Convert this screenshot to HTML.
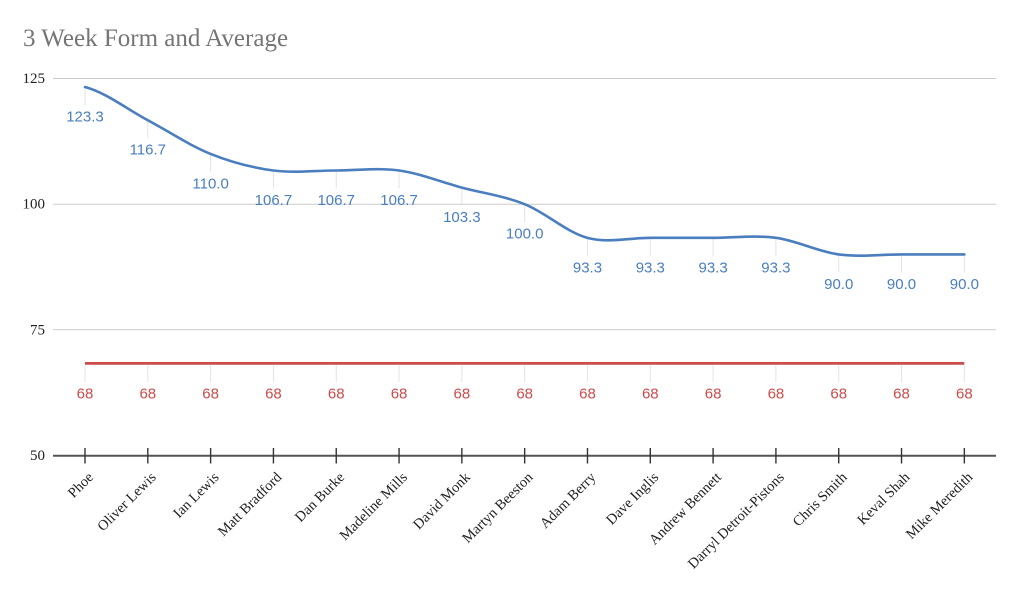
<!DOCTYPE html>
<html>
<head>
<meta charset="utf-8">
<style>
  html, body { margin: 0; padding: 0; background: #ffffff; }
  body { width: 1023px; height: 595px; overflow: hidden; }
  svg { display: block; }
  .title { font-family: "Liberation Serif", serif; font-size: 25px; fill: #757575; }
  .ylab { font-family: "Liberation Serif", serif; font-size: 15px; fill: #222; }
  .xlab { font-family: "Liberation Serif", serif; font-size: 14.5px; fill: #222; }
  .blab { font-family: "Liberation Sans", sans-serif; font-size: 15px; fill: #4a7ebf; }
  .rlab { font-family: "Liberation Sans", sans-serif; font-size: 15px; fill: #cc4b4b; }
</style>
</head>
<body>
<svg width="1023" height="595" viewBox="0 0 1023 595" xmlns="http://www.w3.org/2000/svg">
  <rect x="0" y="0" width="1023" height="595" fill="#ffffff"/>
  <text class="title" x="23" y="46">3 Week Form and Average</text>

  <!-- gridlines -->
  <g stroke="#cccccc" stroke-width="1">
    <line x1="53" y1="78.5" x2="996" y2="78.5"/>
    <line x1="53" y1="204.2" x2="996" y2="204.2"/>
    <line x1="53" y1="329.8" x2="996" y2="329.8"/>
  </g>

  <!-- y labels -->
  <g class="ylab" text-anchor="end">
    <text x="45" y="83">125</text>
    <text x="45" y="208.7">100</text>
    <text x="45" y="334.3">75</text>
    <text x="45" y="460">50</text>
  </g>

  <!-- leader lines blue -->
  <g stroke="#e3e3e3" stroke-width="1">
    <line x1="85" y1="88" x2="85" y2="105"/>
    <line x1="147.81" y1="121" x2="147.81" y2="138"/>
    <line x1="210.62" y1="155" x2="210.62" y2="172"/>
    <line x1="273.43" y1="171.5" x2="273.43" y2="188.5"/>
    <line x1="336.24" y1="171.5" x2="336.24" y2="188.5"/>
    <line x1="399.05" y1="171.5" x2="399.05" y2="188.5"/>
    <line x1="461.86" y1="188.5" x2="461.86" y2="205.5"/>
    <line x1="524.67" y1="205" x2="524.67" y2="222"/>
    <line x1="587.48" y1="239" x2="587.48" y2="256"/>
    <line x1="650.29" y1="239" x2="650.29" y2="256"/>
    <line x1="713.1" y1="239" x2="713.1" y2="256"/>
    <line x1="775.91" y1="239" x2="775.91" y2="256"/>
    <line x1="838.72" y1="255.5" x2="838.72" y2="272.5"/>
    <line x1="901.53" y1="255.5" x2="901.53" y2="272.5"/>
    <line x1="964.34" y1="255.5" x2="964.34" y2="272.5"/>
  </g>
  <!-- leader lines red -->
  <g stroke="#e3e3e3" stroke-width="1">
    <line x1="85" y1="365" x2="85" y2="382"/>
    <line x1="147.81" y1="365" x2="147.81" y2="382"/>
    <line x1="210.62" y1="365" x2="210.62" y2="382"/>
    <line x1="273.43" y1="365" x2="273.43" y2="382"/>
    <line x1="336.24" y1="365" x2="336.24" y2="382"/>
    <line x1="399.05" y1="365" x2="399.05" y2="382"/>
    <line x1="461.86" y1="365" x2="461.86" y2="382"/>
    <line x1="524.67" y1="365" x2="524.67" y2="382"/>
    <line x1="587.48" y1="365" x2="587.48" y2="382"/>
    <line x1="650.29" y1="365" x2="650.29" y2="382"/>
    <line x1="713.1" y1="365" x2="713.1" y2="382"/>
    <line x1="775.91" y1="365" x2="775.91" y2="382"/>
    <line x1="838.72" y1="365" x2="838.72" y2="382"/>
    <line x1="901.53" y1="365" x2="901.53" y2="382"/>
    <line x1="964.34" y1="365" x2="964.34" y2="382"/>
  </g>

  <!-- red average line -->
  <line x1="85" y1="363.4" x2="964.34" y2="363.4" stroke="#cc4b4b" stroke-width="2.8"/>

  <!-- blue smooth line -->
  <path fill="none" stroke="#4a7ebf" stroke-width="2.6" stroke-linejoin="round" stroke-linecap="round"
    d="M85,87.04
       C105.94,92.57 126.87,109.08 147.81,120.22
       C168.75,131.36 189.68,145.52 210.62,153.9
       C231.56,162.28 252.49,167.72 273.43,170.49
       C294.37,173.26 315.3,170.49 336.24,170.49
       C357.18,170.49 378.11,167.64 399.05,170.49
       C419.99,173.34 440.92,181.97 461.86,187.58
       C482.8,193.19 503.73,195.79 524.67,204.17
       C545.61,212.55 566.54,232.23 587.48,237.84
       C608.42,243.45 629.35,237.84 650.29,237.84
       C671.23,237.84 692.16,237.84 713.1,237.84
       C734.04,237.84 754.97,235.07 775.91,237.84
       C796.85,240.61 817.78,251.66 838.72,254.43
       C859.66,257.2 880.59,254.43 901.53,254.43
       C922.47,254.43 943.4,254.43 964.34,254.43"/>

  <!-- blue labels -->
  <g class="blab" text-anchor="middle">
    <text x="85" y="121.5">123.3</text>
    <text x="147.81" y="154.7">116.7</text>
    <text x="210.62" y="188.4">110.0</text>
    <text x="273.43" y="205">106.7</text>
    <text x="336.24" y="205">106.7</text>
    <text x="399.05" y="205">106.7</text>
    <text x="461.86" y="222.1">103.3</text>
    <text x="524.67" y="238.7">100.0</text>
    <text x="587.48" y="272.3">93.3</text>
    <text x="650.29" y="272.3">93.3</text>
    <text x="713.1" y="272.3">93.3</text>
    <text x="775.91" y="272.3">93.3</text>
    <text x="838.72" y="288.9">90.0</text>
    <text x="901.53" y="288.9">90.0</text>
    <text x="964.34" y="288.9">90.0</text>
  </g>

  <!-- red labels -->
  <g class="rlab" text-anchor="middle">
    <text x="85" y="398.5">68</text>
    <text x="147.81" y="398.5">68</text>
    <text x="210.62" y="398.5">68</text>
    <text x="273.43" y="398.5">68</text>
    <text x="336.24" y="398.5">68</text>
    <text x="399.05" y="398.5">68</text>
    <text x="461.86" y="398.5">68</text>
    <text x="524.67" y="398.5">68</text>
    <text x="587.48" y="398.5">68</text>
    <text x="650.29" y="398.5">68</text>
    <text x="713.1" y="398.5">68</text>
    <text x="775.91" y="398.5">68</text>
    <text x="838.72" y="398.5">68</text>
    <text x="901.53" y="398.5">68</text>
    <text x="964.34" y="398.5">68</text>
  </g>

  <!-- x axis -->
  <line x1="53" y1="455.8" x2="996" y2="455.8" stroke="#555555" stroke-width="2"/>
  <g stroke="#333333" stroke-width="1.4">
    <line x1="85" y1="448" x2="85" y2="463.5"/>
    <line x1="147.81" y1="448" x2="147.81" y2="463.5"/>
    <line x1="210.62" y1="448" x2="210.62" y2="463.5"/>
    <line x1="273.43" y1="448" x2="273.43" y2="463.5"/>
    <line x1="336.24" y1="448" x2="336.24" y2="463.5"/>
    <line x1="399.05" y1="448" x2="399.05" y2="463.5"/>
    <line x1="461.86" y1="448" x2="461.86" y2="463.5"/>
    <line x1="524.67" y1="448" x2="524.67" y2="463.5"/>
    <line x1="587.48" y1="448" x2="587.48" y2="463.5"/>
    <line x1="650.29" y1="448" x2="650.29" y2="463.5"/>
    <line x1="713.1" y1="448" x2="713.1" y2="463.5"/>
    <line x1="775.91" y1="448" x2="775.91" y2="463.5"/>
    <line x1="838.72" y1="448" x2="838.72" y2="463.5"/>
    <line x1="901.53" y1="448" x2="901.53" y2="463.5"/>
    <line x1="964.34" y1="448" x2="964.34" y2="463.5"/>
  </g>

  <!-- x labels -->
  <g class="xlab" text-anchor="end">
    <text x="94" y="478" transform="rotate(-45 94 478)">Phoe</text>
    <text x="156.81" y="478" transform="rotate(-45 156.81 478)">Oliver Lewis</text>
    <text x="219.62" y="478" transform="rotate(-45 219.62 478)">Ian Lewis</text>
    <text x="282.43" y="478" transform="rotate(-45 282.43 478)">Matt Bradford</text>
    <text x="345.24" y="478" transform="rotate(-45 345.24 478)">Dan Burke</text>
    <text x="408.05" y="478" transform="rotate(-45 408.05 478)">Madeline Mills</text>
    <text x="470.86" y="478" transform="rotate(-45 470.86 478)">David Monk</text>
    <text x="533.67" y="478" transform="rotate(-45 533.67 478)">Martyn Beeston</text>
    <text x="596.48" y="478" transform="rotate(-45 596.48 478)">Adam Berry</text>
    <text x="659.29" y="478" transform="rotate(-45 659.29 478)">Dave Inglis</text>
    <text x="722.1" y="478" transform="rotate(-45 722.1 478)">Andrew Bennett</text>
    <text x="784.91" y="478" transform="rotate(-45 784.91 478)">Darryl Detroit-Pistons</text>
    <text x="847.72" y="478" transform="rotate(-45 847.72 478)">Chris Smith</text>
    <text x="910.53" y="478" transform="rotate(-45 910.53 478)">Keval Shah</text>
    <text x="973.34" y="478" transform="rotate(-45 973.34 478)">Mike Meredith</text>
  </g>
</svg>
</body>
</html>
